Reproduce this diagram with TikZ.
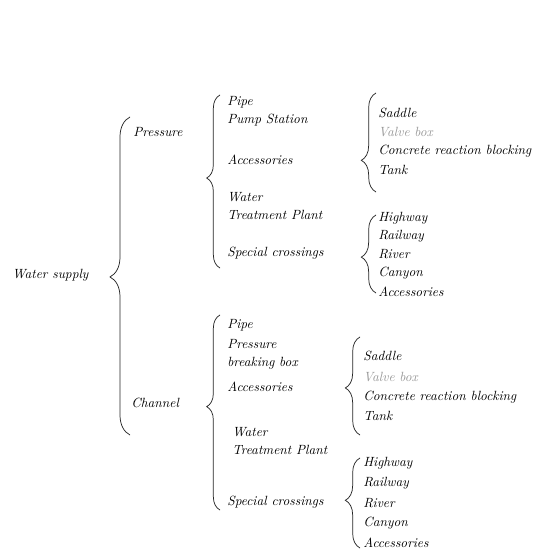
\documentclass[tikz,border=0pt]{standalone}
\usetikzlibrary{decorations.pathreplacing}
\begin{document}
\begin{tikzpicture}[x=0.75pt,y=-0.75pt,
 item/.style={anchor=west, inner sep=0pt, align=left, font=\itshape\fontsize{10}{13.5}\selectfont},
 pale/.style={item, text=black!40},
 brc/.style={draw=black!85, line width=0.55pt, decorate}]
\useasboundingbox[fill=white] (0,0) rectangle (543,552);

% root and first level
\node[item] (ws) at (12,275) {Water supply};
\node[item] (pr) at (133,132) {Pressure};
\node[item] (ch) at (131,403) {Channel};

% pressure branch
\node[item] (pr1) at (227,102) {Pipe};
\node[item] (pr2) at (227,120) {Pump Station};
\node[item] (pr3) at (227,160) {Accessories};
\node[item] (pr4) at (227,206) {Water\\Treatment Plant};
\node[item] (pr5) at (227,253) {Special crossings};

\node[item] (pa1) at (378,113) {Saddle};
\node[pale] (pa2) at (378,132) {Valve box};
\node[item] (pa3) at (378,151) {Concrete reaction blocking};
\node[item] (pa4) at (378,170) {Tank};

\foreach \t/\y [count=\i] in {Highway/218,Railway/236,River/254,Canyon/273,Accessories/292}
 \node[item] (ps\i) at (378,\y) {\t};

% channel branch
\node[item] (ch1) at (227,325) {Pipe};
\node[item] (ch2) at (227,354) {Pressure\\breaking box};
\node[item] (ch3) at (227,387) {Accessories};
\node[item] (ch4) at (232,441) {Water\\Treatment Plant};
\node[item] (ch5) at (227,502) {Special crossings};

\node[item] (ca1) at (363,356) {Saddle};
\node[pale] (ca2) at (363,377) {Valve box};
\node[item] (ca3) at (363,397) {Concrete reaction blocking};
\node[item] (ca4) at (363,416) {Tank};

\foreach \t/\y [count=\i] in {Highway/463,Railway/483,River/503,Canyon/523,Accessories/543}
 \node[item] (cs\i) at (363,\y) {\t};

% braces
\foreach \x/\t/\b/\a/\s in {130/117/435/15pt/0.497, 220/95/268/10pt/0.52,
 376/93/192/11pt/0.32, 376/215/293/11pt/0.46, 220/315/510/10pt/0.53,
 360/337/435/11pt/0.48, 360/458/548/11pt/0.53}
 \draw[brc, decoration={brace, amplitude=\a, aspect=\s}] (\x,\b) -- (\x,\t);
\end{tikzpicture}
\end{document}
